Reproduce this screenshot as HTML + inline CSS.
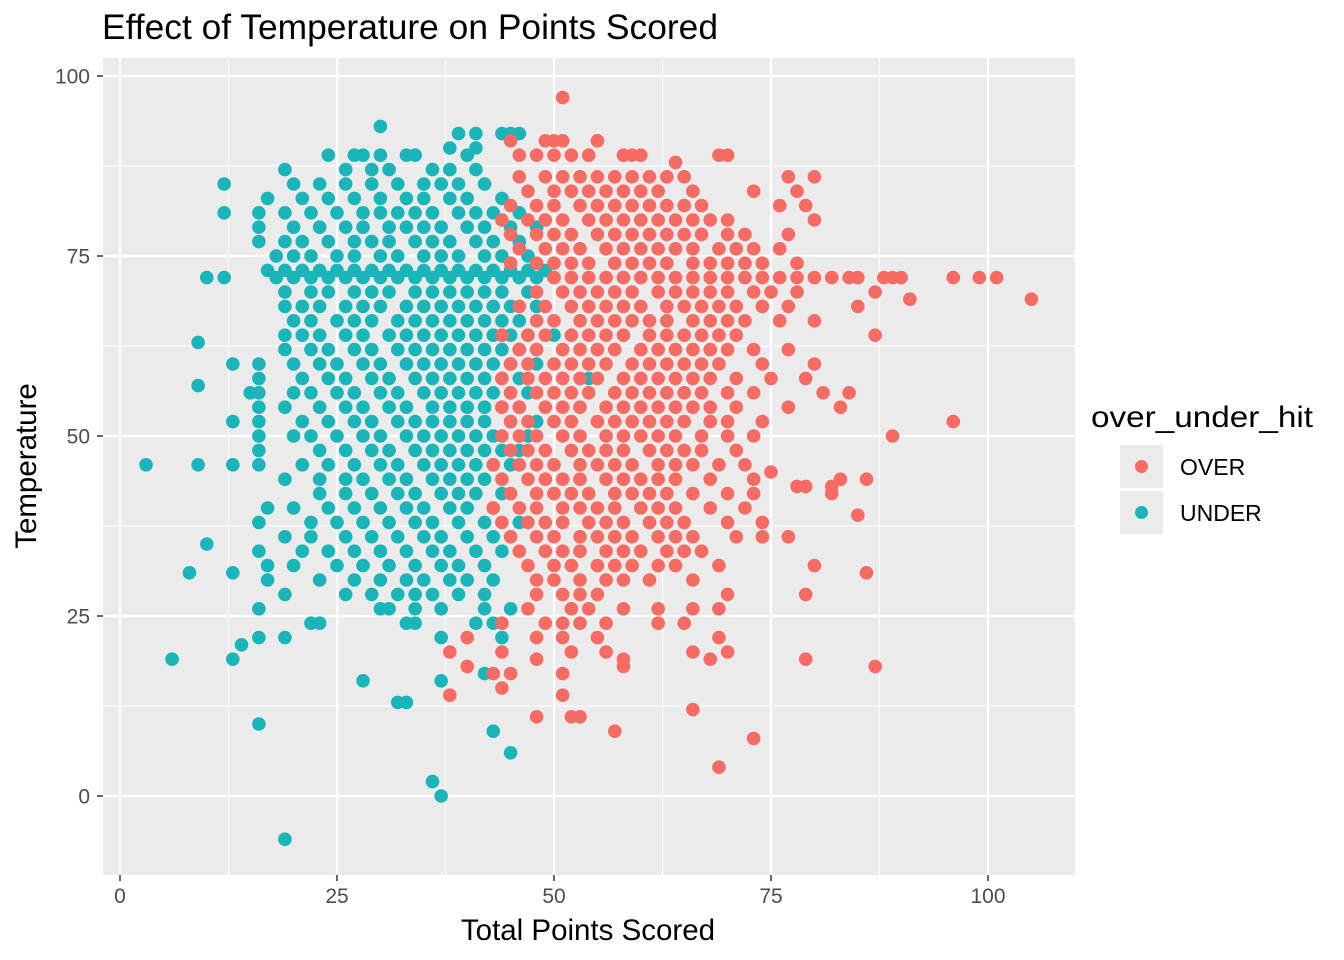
<!DOCTYPE html>
<html><head><meta charset="utf-8"><style>
body{margin:0;background:#fff;}
svg{display:block;font-family:"Liberation Sans",sans-serif;}
</style></head><body>
<svg id="chart" width="1344" height="960">
<text x="102" y="39" font-size="35" fill="#000" textLength="616" lengthAdjust="spacingAndGlyphs">Effect of Temperature on Points Scored</text>
<rect x="103" y="58" width="972" height="817" fill="#EBEBEB"/>
<g id="grid"></g>
<g id="pts"></g>
<g id="axes"></g>
<text x="588" y="940" font-size="29.5" text-anchor="middle" fill="#000">Total Points Scored</text>
<text transform="translate(36,466) rotate(-90)" font-size="29.5" text-anchor="middle" fill="#000">Temperature</text>
<g>
<text x="1091" y="427" font-size="29.5" fill="#000" textLength="222" lengthAdjust="spacingAndGlyphs">over_under_hit</text>
<g>
<rect x="1120" y="445" width="43" height="43" fill="#EBEBEB"/>
<circle cx="1141.5" cy="466.5" r="6.5" fill="#F66C64"/>
<text x="1180" y="475" font-size="23" fill="#000">OVER</text></g>
<g>
<rect x="1120" y="491" width="43" height="43" fill="#EBEBEB"/>
<circle cx="1141.5" cy="512.5" r="6.5" fill="#19B5B9"/>
<text x="1180" y="521" font-size="23" fill="#000">UNDER</text></g>
</g>
</svg>
<script>
const xTicks=[0,25,50,75,100];
const yTicks=[0,25,50,75,100];
// rows: [temperature, [total points...]]
const underRows=[[93,[30]],[92,[39,41,44,45,46]],[90,[38,41]],[89,[24,27,28,30,33,34,40]],[87,[19,26,29,31,36,38,41]],[85,[12,20,23,26,29,32,35,37,39,42]],[83,[17,21,24,27,30,33,35,38,40,44]],[81,[12,16,19,22,25,28,30,32,34,36,39,41,43,46]],[79,[16,20,23,26,28,31,33,35,37,40,42,45,48]],[77,[16,19,21,24,27,29,31,34,36,38,41,43,46]],[75,[18,20,22,25,27,30,32,35,37,39,42,44,47]],[73,[17,19,21,23,25,27,29,31,33,35,37,39,41,43,45,47,49]],[72,[10,12,18,20,22,24,26,28,30,32,34,36,38,40,42,44,46,48,50]],[70,[19,22,24,27,29,31,34,36,38,40,42,44,47]],[68,[19,21,23,26,28,30,33,35,37,39,41,43,45,48]],[66,[20,22,25,27,29,32,34,36,38,40,42,44,46]],[64,[19,21,23,26,28,31,33,35,37,39,41,43,45,47,50]],[63,[9]],[62,[19,22,24,27,29,32,34,36,38,40,42,44,46]],[60,[13,16,20,23,25,28,30,33,35,37,39,41,43,45,48]],[58,[16,21,24,26,29,31,34,36,38,40,42,44,46,54]],[57,[9]],[56,[15,16,20,22,25,27,30,32,35,37,39,41,43,45,47]],[54,[16,19,23,26,28,31,33,36,38,40,42,44,46]],[52,[13,16,21,24,27,29,32,34,36,38,40,42,45,48]],[50,[16,20,22,25,28,30,33,35,37,39,41,43,47]],[48,[16,23,26,29,31,34,36,38,40,42,44,46]],[46,[3,9,13,16,21,24,27,30,32,35,37,39,41,43,45]],[44,[19,23,26,28,31,33,36,38,40,42]],[42,[23,26,29,32,34,37,39,41,44,50]],[40,[17,20,24,27,30,33,35,38,40,43]],[38,[16,22,25,28,31,34,36,39,42,46]],[36,[19,22,26,29,32,35,37,40,43]],[35,[10]],[34,[16,21,24,27,30,33,36,38,41,44]],[32,[17,20,25,28,31,34,37,39,42]],[31,[8,13]],[30,[17,23,27,30,33,35,38,40,43]],[28,[19,26,29,32,34,36,39,42]],[26,[16,30,31,34,37,42,45]],[24,[22,23,33,34,41,43]],[22,[16,19,37,44]],[21,[14]],[19,[6,13]],[17,[42]],[16,[28,37]],[13,[32,33]],[10,[16]],[9,[43]],[6,[45]],[2,[36]],[0,[37]],[-6,[19]]];
const overRows=[[97,[51]],[91,[45,49,50,51,55]],[89,[46,48,50,52,54,58,59,60,69,70]],[88,[64]],[86,[46,49,51,53,55,57,59,61,63,65,77,80]],[84,[47,50,52,54,56,58,60,62,66,73,78]],[82,[45,48,50,53,55,57,59,61,63,65,67,76,79]],[80,[44,47,49,51,54,56,58,60,62,64,66,68,70,80]],[78,[45,48,50,52,55,57,59,61,63,65,67,70,72,77]],[76,[46,49,51,53,56,58,60,62,64,66,69,71,73,76]],[74,[45,48,50,52,54,57,59,61,63,66,68,70,72,74,78]],[72,[50,52,54,56,58,60,62,64,66,68,70,72,74,76,78,80,82,84,85,88,89,90,96,99,101]],[70,[48,51,53,55,57,59,62,64,66,68,70,73,75,78,87]],[69,[91,105]],[68,[46,49,52,54,56,58,60,63,65,67,69,71,74,77,85]],[66,[48,50,53,55,57,59,61,63,66,68,70,72,76,80]],[64,[44,47,49,52,54,56,58,61,63,65,67,69,71,87]],[62,[46,48,51,53,55,57,60,62,64,66,68,70,73,77]],[60,[45,47,50,52,54,56,59,61,63,65,67,69,74,80]],[58,[44,47,49,51,53,55,58,60,62,64,66,68,71,75,79]],[56,[45,48,50,52,54,57,59,61,63,65,67,70,73,81,84]],[54,[44,46,49,51,53,56,58,60,62,64,66,68,71,77,83]],[52,[45,47,50,52,55,57,59,61,63,65,68,70,74,96]],[50,[44,46,48,51,53,56,58,60,62,64,67,70,73,89]],[48,[45,47,49,52,54,56,58,61,63,65,67,71]],[46,[43,46,48,50,53,55,57,59,62,64,66,69,72]],[45,[75]],[44,[44,47,49,51,53,56,58,60,62,64,68,73,83,86]],[43,[78,79,82]],[42,[45,48,50,52,54,57,59,61,63,66,70,73,82]],[40,[43,46,48,51,53,55,57,60,62,64,68,72]],[39,[85]],[38,[44,47,49,51,54,56,58,61,63,65,70,74]],[36,[45,48,50,53,55,57,59,62,64,66,71,74,77]],[34,[46,49,51,53,56,58,60,63,65,67]],[32,[47,50,52,55,57,59,62,64,69,80]],[31,[86]],[30,[48,50,53,56,58,61,66]],[28,[48,51,53,55,70,79]],[26,[47,52,54,58,62,66,69]],[24,[44,49,51,53,56,62,65]],[22,[40,48,51,55,69]],[20,[38,44,52,56,66,70]],[19,[48,58,68,79]],[18,[40,58,87]],[17,[43,45,51]],[15,[44]],[14,[38,51]],[12,[66]],[11,[48,52,53]],[9,[57]],[8,[73]],[4,[69]]];
const NS='http://www.w3.org/2000/svg';
const xs=v=>120+v*8.68, ys=v=>796-v*7.2;
const grid=document.getElementById('grid'), axes=document.getElementById('axes'), pts=document.getElementById('pts');
function line(g,x1,y1,x2,y2,c,w){const l=document.createElementNS(NS,'line');l.setAttribute('x1',x1);l.setAttribute('y1',y1);l.setAttribute('x2',x2);l.setAttribute('y2',y2);l.setAttribute('stroke',c);l.setAttribute('stroke-width',w);g.appendChild(l);return l;}
for(let i=0;i<xTicks.length;i++){
  const v=xTicks[i];
  const g=line(grid,xs(v),58,xs(v),875,'#fff',2.2);
  
  
  if(i<xTicks.length-1){const m=(v+xTicks[i+1])/2;const mg=line(grid,xs(m),58,xs(m),875,'#fff',1.1);
  
  }
  line(axes,xs(v),875,xs(v),881,'#333',1.5);
  const t=document.createElementNS(NS,'text');t.setAttribute('x',xs(v));t.setAttribute('y',903);t.setAttribute('text-anchor','middle');t.setAttribute('font-size','21');t.setAttribute('fill','#4D4D4D');t.textContent=v;
  
  
  axes.appendChild(t);
}
for(let i=0;i<yTicks.length;i++){
  const v=yTicks[i];
  const g=line(grid,103,ys(v),1075,ys(v),'#fff',2.2);
  
  
  if(i<yTicks.length-1){const m=(v+yTicks[i+1])/2;const mg=line(grid,103,ys(m),1075,ys(m),'#fff',1.1);
  
  }
  line(axes,97,ys(v),103,ys(v),'#333',1.5);
  const t=document.createElementNS(NS,'text');t.setAttribute('x',90);t.setAttribute('y',ys(v)+7.5);t.setAttribute('text-anchor','end');t.setAttribute('font-size','21');t.setAttribute('fill','#4D4D4D');t.textContent=v;
  
  
  axes.appendChild(t);
}
function draw(rows,color,name){
  rows.forEach(r=>{r[1].forEach(x=>{
    const c=document.createElementNS(NS,'circle');
    c.setAttribute('cx',xs(x));c.setAttribute('cy',ys(r[0]));c.setAttribute('r',6.8);c.setAttribute('fill',color);
    
    
    pts.appendChild(c);
  });});
}
draw(underRows,'#19B5B9','under-point');
draw(overRows,'#F66C64','over-point');
</script>
</body></html>
